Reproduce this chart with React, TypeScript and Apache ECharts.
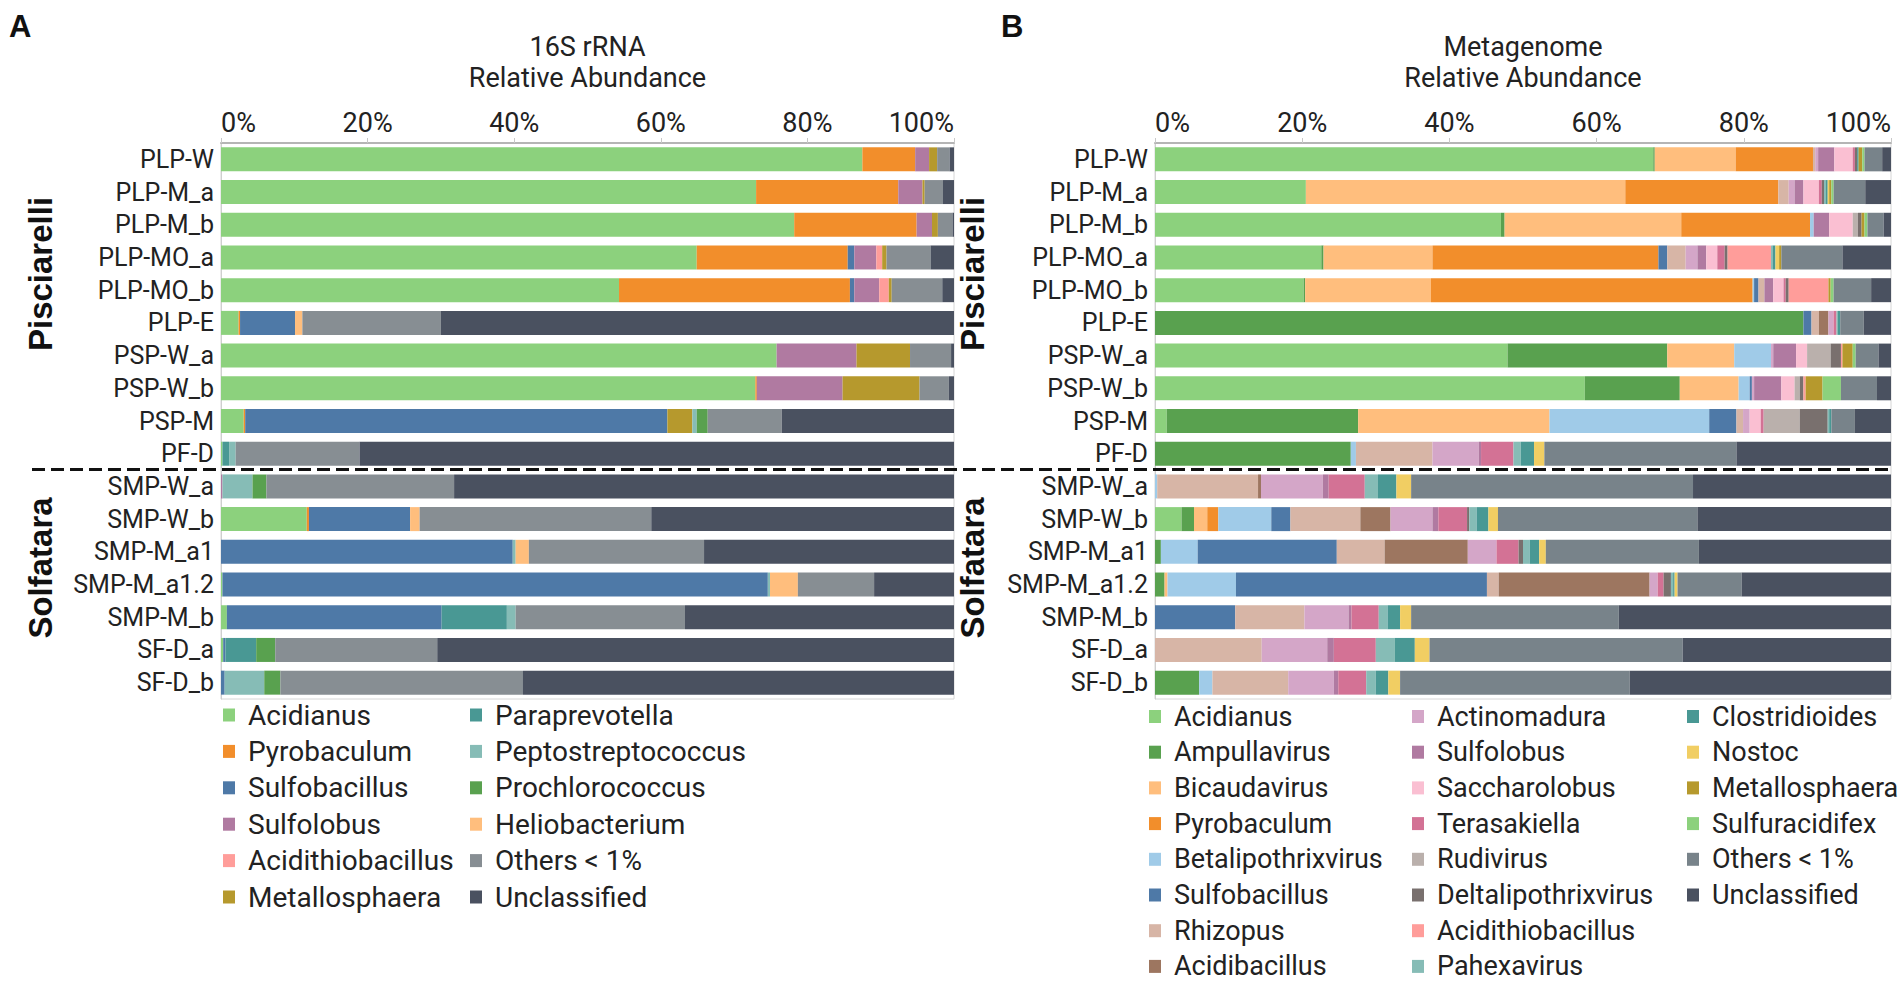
import React, { useEffect, useRef } from "react";
import * as echarts from "echarts";

// ---------- categories ----------
const samples = [
  "PLP-W", "PLP-M_a", "PLP-M_b", "PLP-MO_a", "PLP-MO_b", "PLP-E", "PSP-W_a", "PSP-W_b", "PSP-M", "PF-D",
  "SMP-W_a", "SMP-W_b", "SMP-M_a1", "SMP-M_a1.2", "SMP-M_b", "SF-D_a", "SF-D_b",
];

// ---------- Panel A: 16S rRNA (percent) ----------
const a_Acidianus = [87.5, 73.0, 78.2, 64.9, 54.3, 2.4, 75.8, 72.9, 3.1, 0.2, 0, 11.7, 0, 0.2, 0.8, 0.3, 0];
const a_Pyrobaculum = [7.2, 19.4, 16.7, 20.6, 31.5, 0.2, 0, 0.2, 0.2, 0, 0, 0.3, 0, 0, 0, 0, 0];
const a_Sulfobacillus = [0, 0, 0, 0.9, 0.6, 7.5, 0, 0, 57.6, 0, 0, 13.8, 39.8, 74.4, 29.3, 0.3, 0.5];
const a_Sulfolobus = [1.9, 3.3, 2.1, 3.0, 3.4, 0, 10.9, 11.7, 0, 0, 0.2, 0, 0, 0, 0, 0, 0];
const a_Acidithiobacillus = [0, 0, 0, 0.8, 1.3, 0, 0, 0, 0, 0, 0, 0, 0, 0, 0, 0, 0];
const a_Metallosphaera = [1.1, 0.3, 0.8, 0.6, 0.4, 0, 7.3, 10.5, 3.4, 0, 0, 0, 0, 0, 0, 0, 0];
const a_Paraprevotella = [0, 0, 0, 0, 0, 0, 0, 0, 0, 0.9, 0, 0, 0, 0, 8.9, 4.2, 0];
const a_Peptostreptococcus = [0, 0, 0, 0, 0, 0, 0, 0, 0.6, 0.9, 4.1, 0, 0.4, 0.3, 1.2, 0, 5.4];
const a_Prochlorococcus = [0, 0, 0, 0, 0, 0, 0, 0, 1.5, 0, 1.9, 0, 0, 0, 0, 2.6, 2.2];
const a_Heliobacterium = [0, 0, 0, 0, 0, 1.0, 0, 0, 0, 0, 0, 1.3, 1.8, 3.8, 0, 0, 0];
const a_Others = [1.7, 2.5, 2.0, 6.0, 6.9, 18.9, 5.6, 4.0, 10.1, 16.9, 25.6, 31.6, 23.9, 10.4, 23.1, 22.1, 33.1];
const a_Unclassified = [0.6, 1.5, 0.2, 3.2, 1.6, 70.0, 0.4, 0.7, 23.5, 81.1, 68.2, 41.3, 34.1, 10.9, 36.7, 70.5, 58.8];

// ---------- Panel B: Metagenome (percent) ----------
const b_Acidianus = [67.7, 20.5, 47.0, 22.6, 20.2, 0, 47.9, 58.4, 1.6, 0, 0, 3.6, 0, 0, 0, 0, 0];
const b_Ampullavirus = [0.2, 0, 0.5, 0.3, 0.2, 88.1, 21.7, 12.9, 26.0, 26.6, 0, 1.7, 0.8, 1.3, 0, 0, 6.0];
const b_Bicaudavirus = [11.0, 43.4, 24.0, 14.8, 17.1, 0, 9.1, 8.0, 26.0, 0, 0, 1.8, 0, 0.4, 0, 0, 0];
const b_Pyrobaculum = [10.5, 20.8, 17.5, 30.7, 43.7, 0, 0, 0, 0, 0, 0, 1.5, 0, 0, 0, 0, 0];
const b_Betalipothrixvirus = [0, 0, 0.5, 0, 0.2, 0, 5.0, 1.5, 21.7, 0.7, 0.3, 7.2, 5.0, 9.3, 0, 0, 1.8];
const b_Sulfobacillus = [0, 0, 0, 1.2, 0.6, 1.1, 0, 0.3, 3.7, 0, 0, 2.6, 18.9, 34.1, 10.9, 0, 0];
const b_Rhizopus = [0.3, 1.4, 0, 2.5, 0.8, 1.0, 0, 0, 0.9, 10.4, 13.7, 9.5, 6.5, 1.6, 9.4, 14.5, 10.3];
const b_Acidibacillus = [0, 0, 0, 0, 0, 1.3, 0, 0, 0, 0, 0.4, 4.1, 11.3, 20.5, 0, 0, 0];
const b_Actinomadura = [0.4, 0.8, 0, 1.6, 0, 0.7, 0.3, 0.3, 0.9, 6.3, 8.4, 5.7, 3.9, 1.1, 6.0, 8.9, 6.2];
const b_Sulfolobus = [2.2, 1.2, 2.1, 1.2, 1.2, 0, 3.1, 3.7, 0, 0.3, 0.8, 0.8, 0, 0, 0.4, 0.9, 0.6];
const b_Saccharolobus = [2.5, 2.1, 3.2, 1.5, 1.4, 0, 1.5, 1.8, 1.5, 0, 0, 0, 0, 0, 0, 0, 0];
const b_Terasakiella = [0.3, 0.4, 0, 1.0, 0.3, 0.4, 0, 0, 0.4, 4.4, 4.9, 3.9, 3.0, 0.8, 3.7, 5.7, 3.8];
const b_Rudivirus = [0, 0, 0.7, 0, 0, 0, 3.2, 0.7, 4.9, 0, 0, 0, 0, 0, 0, 0, 0];
const b_Deltalipothrixvirus = [0.3, 0.3, 0.5, 0.4, 0.4, 0, 1.4, 0.5, 3.8, 0, 0, 0.3, 0.6, 1.0, 0, 0, 0];
const b_Acidithiobacillus = [0, 0, 0, 5.9, 5.4, 0, 0.2, 0.3, 0, 0, 0, 0, 0, 0, 0, 0, 0];
const b_Pahexavirus = [0, 0.2, 0, 0.2, 0, 0.2, 0, 0, 0.2, 1.0, 1.8, 1.0, 0.9, 0.3, 1.2, 2.6, 1.3];
const b_Clostridioides = [0.2, 0.3, 0, 0.4, 0, 0.3, 0, 0, 0.3, 1.8, 2.5, 1.6, 1.3, 0.2, 1.7, 2.7, 1.7];
const b_Nostoc = [0, 0.2, 0, 0.5, 0, 0, 0, 0, 0, 1.4, 2.0, 1.3, 0.9, 0.4, 1.5, 2.0, 1.6];
const b_Metallosphaera = [0.5, 0.3, 0.4, 0.3, 0.3, 0, 1.4, 2.3, 0, 0, 0, 0, 0, 0, 0, 0, 0];
const b_Sulfuracidifex = [0.3, 0.3, 0.4, 0, 0.4, 0, 0.4, 2.5, 0, 0, 0, 0, 0, 0, 0, 0, 0];
const b_Others = [2.4, 4.3, 2.2, 8.3, 5.1, 3.2, 3.1, 4.9, 3.2, 26.1, 38.3, 27.1, 20.8, 8.7, 28.2, 34.4, 31.2];
const b_Unclassified = [1.2, 3.5, 1.0, 6.6, 2.7, 3.7, 1.7, 1.9, 4.9, 21.0, 26.9, 26.3, 26.1, 20.3, 37.0, 28.3, 35.5];

// ---------- series definitions (name, values, colour) ----------
const seriesDefsA: [string, number[], string][] = [
  ["Acidianus", a_Acidianus, "#8CD17D"],
  ["Pyrobaculum", a_Pyrobaculum, "#F28E2B"],
  ["Sulfobacillus", a_Sulfobacillus, "#4E79A7"],
  ["Sulfolobus", a_Sulfolobus, "#B07AA1"],
  ["Acidithiobacillus", a_Acidithiobacillus, "#FF9D9A"],
  ["Metallosphaera", a_Metallosphaera, "#B6992D"],
  ["Paraprevotella", a_Paraprevotella, "#499894"],
  ["Peptostreptococcus", a_Peptostreptococcus, "#86BCB6"],
  ["Prochlorococcus", a_Prochlorococcus, "#59A14F"],
  ["Heliobacterium", a_Heliobacterium, "#FFBE7D"],
  ["Others < 1%", a_Others, "#878E93"],
  ["Unclassified", a_Unclassified, "#4A5160"],
];

const seriesDefsB: [string, number[], string][] = [
  ["Acidianus", b_Acidianus, "#8CD17D"],
  ["Ampullavirus", b_Ampullavirus, "#59A14F"],
  ["Bicaudavirus", b_Bicaudavirus, "#FFBE7D"],
  ["Pyrobaculum", b_Pyrobaculum, "#F28E2B"],
  ["Betalipothrixvirus", b_Betalipothrixvirus, "#A0CBE8"],
  ["Sulfobacillus", b_Sulfobacillus, "#4E79A7"],
  ["Rhizopus", b_Rhizopus, "#D7B5A6"],
  ["Acidibacillus", b_Acidibacillus, "#9D7660"],
  ["Actinomadura", b_Actinomadura, "#D4A6C8"],
  ["Sulfolobus", b_Sulfolobus, "#B07AA1"],
  ["Saccharolobus", b_Saccharolobus, "#FABFD2"],
  ["Terasakiella", b_Terasakiella, "#D37295"],
  ["Rudivirus", b_Rudivirus, "#BAB0AC"],
  ["Deltalipothrixvirus", b_Deltalipothrixvirus, "#79706E"],
  ["Acidithiobacillus", b_Acidithiobacillus, "#FF9D9A"],
  ["Pahexavirus", b_Pahexavirus, "#86BCB6"],
  ["Clostridioides", b_Clostridioides, "#499894"],
  ["Nostoc", b_Nostoc, "#F1CE63"],
  ["Metallosphaera", b_Metallosphaera, "#B6992D"],
  ["Sulfuracidifex", b_Sulfuracidifex, "#8CD17D"],
  ["Others < 1%", b_Others, "#78838A"],
  ["Unclassified", b_Unclassified, "#4A5160"],
];

const FONT = "Roboto, 'Noto Sans', sans-serif";
const TEXT = "#222222";

export default function App() {
  const ref = useRef<HTMLDivElement>(null);

  useEffect(() => {
    document.body.style.margin = "0";
    if (!ref.current) return;
    const chart = echarts.init(ref.current, undefined, { renderer: "svg" });

    const gridA = { left: 221, top: 143, width: 733, height: 556 };
    const gridB = { left: 1155, top: 143, width: 736, height: 556 };

    const mkX = (gridIndex: number) => ({
      type: "value",
      gridIndex,
      position: "top",
      min: 0,
      max: 100,
      interval: 20,
      axisLine: { show: true, lineStyle: { color: "#b5b5b5", width: 2 } },
      axisTick: { show: true, length: 5, lineStyle: { color: "#c8c8c8" } },
      splitLine: { show: false },
      axisLabel: {
        formatter: "{value}%",
        fontFamily: FONT,
        fontSize: 27,
        color: TEXT,
        margin: 7,
        alignMinLabel: "left",
        alignMaxLabel: "right",
      },
    });

    const mkY = (gridIndex: number) => ({
      type: "category",
      gridIndex,
      data: samples,
      inverse: true,
      axisLine: { show: true, lineStyle: { color: "#cfcfcf", width: 1 } },
      axisTick: { show: false },
      axisLabel: { fontFamily: FONT, fontSize: 25, color: TEXT, margin: 7 },
    });

    const mkSeries = (defs: [string, number[], string][], idx: number, stack: string) =>
      defs.map(([name, values, color]) => ({
        type: "bar",
        name,
        stack,
        xAxisIndex: idx,
        yAxisIndex: idx,
        barWidth: 24,
        data: values,
        itemStyle: { color },
        emphasis: { disabled: true },
      }));

    const legendCol = (
      defs: [string, number[], string][],
      left: number,
      top: number,
      fontSize: number,
      itemGap: number
    ) => ({
      orient: "vertical",
      left,
      top,
      height: 320,
      width: 300,
      padding: 0,
      icon: "rect",
      itemWidth: 12,
      itemHeight: 13,
      itemGap,
      selectedMode: false,
      textStyle: { fontFamily: FONT, fontSize, lineHeight: 26, color: TEXT, padding: [0, 0, 0, 8] },
      data: defs.map(([name, , color]) => ({ name, itemStyle: { color } })),
    });

    const groupLabel = (text: string, x: number, y: number) => ({
      type: "text",
      x,
      y,
      rotation: Math.PI / 2,
      style: {
        text,
        fontFamily: "'Liberation Sans', Arial, sans-serif",
        fontSize: 33,
        fontWeight: "bold",
        fill: "#111",
        align: "center",
        verticalAlign: "middle",
      },
    });

    const option = {
      animation: false,
      backgroundColor: "#ffffff",
      title: [
        {
          text: "16S rRNA\nRelative Abundance",
          left: gridA.left + gridA.width / 2,
          top: 31,
          textAlign: "center",
          padding: 0,
          textStyle: { fontFamily: FONT, fontSize: 27, fontWeight: "normal", color: TEXT, lineHeight: 31 },
        },
        {
          text: "Metagenome\nRelative Abundance",
          left: gridB.left + gridB.width / 2,
          top: 31,
          textAlign: "center",
          padding: 0,
          textStyle: { fontFamily: FONT, fontSize: 27, fontWeight: "normal", color: TEXT, lineHeight: 31 },
        },
      ],
      grid: [
        { ...gridA, show: true, borderColor: "#d6d6d6", borderWidth: 1, backgroundColor: "transparent" },
        { ...gridB, show: true, borderColor: "#d6d6d6", borderWidth: 1, backgroundColor: "transparent" },
      ],
      xAxis: [mkX(0), mkX(1)],
      yAxis: [mkY(0), mkY(1)],
      legend: [
        legendCol(seriesDefsA.slice(0, 6), 223, 701, 28, 8.4),
        legendCol(seriesDefsA.slice(6), 470, 701, 28, 8.4),
        legendCol(seriesDefsB.slice(0, 8), 1149, 703, 27, 8.7),
        legendCol(seriesDefsB.slice(8, 16), 1412, 703, 27, 8.7),
        legendCol(seriesDefsB.slice(16), 1687, 703, 27, 8.7),
      ],
      series: [...mkSeries(seriesDefsA, 0, "A"), ...mkSeries(seriesDefsB, 1, "B")],
      graphic: [
        {
          type: "text",
          x: 9,
          y: 26,
          style: {
            text: "A",
            fontFamily: "'Liberation Sans', Arial, sans-serif",
            fontSize: 31,
            fontWeight: "bold",
            fill: "#111",
            verticalAlign: "middle",
          },
        },
        {
          type: "text",
          x: 1001,
          y: 26,
          style: {
            text: "B",
            fontFamily: "'Liberation Sans', Arial, sans-serif",
            fontSize: 31,
            fontWeight: "bold",
            fill: "#111",
            verticalAlign: "middle",
          },
        },
        groupLabel("Pisciarelli", 40, 274),
        groupLabel("Solfatara", 40, 568),
        groupLabel("Pisciarelli", 972, 274),
        groupLabel("Solfatara", 972, 568),
        {
          type: "line",
          shape: { x1: 32, y1: 469.5, x2: 1892, y2: 469.5 },
          style: { stroke: "#111", lineWidth: 3, lineDash: [13, 6] },
          z: 10,
        },
      ],
    };

    chart.setOption(option as any);
    return () => chart.dispose();
  }, []);

  return <div ref={ref} style={{ width: 1904, height: 987 }} />;
}
